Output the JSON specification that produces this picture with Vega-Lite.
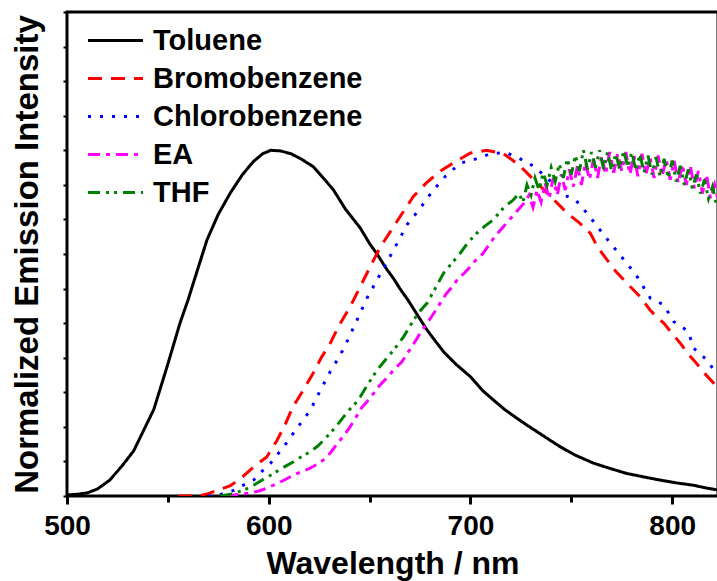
{
  "$schema": "https://vega.github.io/schema/vega-lite/v6.json",
  "width": 651,
  "height": 484,
  "autosize": "none",
  "padding": {"left": 67, "top": 12, "right": 0, "bottom": 85},
  "background": "white",
  "config": {"view": {"stroke": "black", "strokeWidth": 3}, "font": "Liberation Sans", "legend": {"padding": 0}},
  "data": {"values": [
    {"s":"Toluene","x":500,"y":0.003},{"s":"Toluene","x":505,"y":0.005},{"s":"Toluene","x":510,"y":0.009},{"s":"Toluene","x":515,"y":0.02},{"s":"Toluene","x":521,"y":0.045},{"s":"Toluene","x":527,"y":0.085},{"s":"Toluene","x":533,"y":0.13},{"s":"Toluene","x":538,"y":0.19},{"s":"Toluene","x":543,"y":0.25},{"s":"Toluene","x":549.6,"y":0.374},{"s":"Toluene","x":556,"y":0.5},{"s":"Toluene","x":560,"y":0.567},{"s":"Toluene","x":565,"y":0.66},{"s":"Toluene","x":569.4,"y":0.741},{"s":"Toluene","x":575,"y":0.815},{"s":"Toluene","x":581,"y":0.877},{"s":"Toluene","x":587,"y":0.93},{"s":"Toluene","x":592.5,"y":0.968},{"s":"Toluene","x":597,"y":0.99},{"s":"Toluene","x":601,"y":1.0},{"s":"Toluene","x":606,"y":0.998},{"s":"Toluene","x":611,"y":0.99},{"s":"Toluene","x":616,"y":0.975},{"s":"Toluene","x":622,"y":0.953},{"s":"Toluene","x":627,"y":0.92},{"s":"Toluene","x":632,"y":0.886},{"s":"Toluene","x":638,"y":0.83},{"s":"Toluene","x":645.4,"y":0.775},{"s":"Toluene","x":650,"y":0.73},{"s":"Toluene","x":653.7,"y":0.7},{"s":"Toluene","x":658,"y":0.66},{"s":"Toluene","x":662,"y":0.628},{"s":"Toluene","x":665,"y":0.6},{"s":"Toluene","x":669,"y":0.567},{"s":"Toluene","x":673,"y":0.53},{"s":"Toluene","x":678.5,"y":0.48},{"s":"Toluene","x":683,"y":0.445},{"s":"Toluene","x":687,"y":0.415},{"s":"Toluene","x":693,"y":0.38},{"s":"Toluene","x":700,"y":0.345},{"s":"Toluene","x":706,"y":0.305},{"s":"Toluene","x":711.5,"y":0.277},{"s":"Toluene","x":717,"y":0.25},{"s":"Toluene","x":723,"y":0.225},{"s":"Toluene","x":728,"y":0.205},{"s":"Toluene","x":733,"y":0.186},{"s":"Toluene","x":739,"y":0.163},{"s":"Toluene","x":744.6,"y":0.142},{"s":"Toluene","x":752,"y":0.118},{"s":"Toluene","x":761,"y":0.095},{"s":"Toluene","x":769,"y":0.08},{"s":"Toluene","x":777.6,"y":0.065},{"s":"Toluene","x":786,"y":0.055},{"s":"Toluene","x":794,"y":0.046},{"s":"Toluene","x":802,"y":0.038},{"s":"Toluene","x":810.6,"y":0.031},{"s":"Toluene","x":817,"y":0.023},{"s":"Toluene","x":823,"y":0.017},

    {"s":"Bromobenzene","x":555,"y":0},{"s":"Bromobenzene","x":559.5,"y":0},{"s":"Bromobenzene","x":566,"y":0.001},{"s":"Bromobenzene","x":570,"y":0.007},{"s":"Bromobenzene","x":574.4,"y":0.016},{"s":"Bromobenzene","x":581,"y":0.03},{"s":"Bromobenzene","x":587,"y":0.055},{"s":"Bromobenzene","x":592.5,"y":0.084},{"s":"Bromobenzene","x":599,"y":0.113},{"s":"Bromobenzene","x":604,"y":0.16},{"s":"Bromobenzene","x":608,"y":0.205},{"s":"Bromobenzene","x":612,"y":0.258},{"s":"Bromobenzene","x":617,"y":0.305},{"s":"Bromobenzene","x":622,"y":0.355},{"s":"Bromobenzene","x":626,"y":0.4},{"s":"Bromobenzene","x":630.5,"y":0.442},{"s":"Bromobenzene","x":635,"y":0.495},{"s":"Bromobenzene","x":640.4,"y":0.548},{"s":"Bromobenzene","x":645.4,"y":0.606},{"s":"Bromobenzene","x":650,"y":0.66},{"s":"Bromobenzene","x":655.3,"y":0.72},{"s":"Bromobenzene","x":662,"y":0.78},{"s":"Bromobenzene","x":667,"y":0.825},{"s":"Bromobenzene","x":671.8,"y":0.867},{"s":"Bromobenzene","x":678,"y":0.905},{"s":"Bromobenzene","x":685,"y":0.94},{"s":"Bromobenzene","x":692,"y":0.965},{"s":"Bromobenzene","x":700,"y":0.992},{"s":"Bromobenzene","x":708,"y":1.0},{"s":"Bromobenzene","x":716.4,"y":0.99},{"s":"Bromobenzene","x":720,"y":0.975},{"s":"Bromobenzene","x":724.7,"y":0.954},{"s":"Bromobenzene","x":731.3,"y":0.915},{"s":"Bromobenzene","x":739.6,"y":0.867},{"s":"Bromobenzene","x":748,"y":0.818},{"s":"Bromobenzene","x":754,"y":0.79},{"s":"Bromobenzene","x":759.4,"y":0.76},{"s":"Bromobenzene","x":763,"y":0.72},{"s":"Bromobenzene","x":767.7,"y":0.683},{"s":"Bromobenzene","x":772,"y":0.65},{"s":"Bromobenzene","x":777.6,"y":0.615},{"s":"Bromobenzene","x":784,"y":0.577},{"s":"Bromobenzene","x":789,"y":0.538},{"s":"Bromobenzene","x":792,"y":0.52},{"s":"Bromobenzene","x":795.8,"y":0.5},{"s":"Bromobenzene","x":800,"y":0.47},{"s":"Bromobenzene","x":804,"y":0.442},{"s":"Bromobenzene","x":808,"y":0.41},{"s":"Bromobenzene","x":812,"y":0.384},{"s":"Bromobenzene","x":816,"y":0.355},{"s":"Bromobenzene","x":820.6,"y":0.326},{"s":"Bromobenzene","x":823,"y":0.31},

    {"s":"Chlorobenzene","x":570,"y":0},{"s":"Chlorobenzene","x":574.4,"y":0.001},{"s":"Chlorobenzene","x":578,"y":0.008},{"s":"Chlorobenzene","x":582.6,"y":0.016},{"s":"Chlorobenzene","x":587,"y":0.03},{"s":"Chlorobenzene","x":592.5,"y":0.046},{"s":"Chlorobenzene","x":596,"y":0.068},{"s":"Chlorobenzene","x":600.8,"y":0.094},{"s":"Chlorobenzene","x":607.4,"y":0.142},{"s":"Chlorobenzene","x":614,"y":0.196},{"s":"Chlorobenzene","x":620.6,"y":0.248},{"s":"Chlorobenzene","x":625.6,"y":0.306},{"s":"Chlorobenzene","x":630.5,"y":0.36},{"s":"Chlorobenzene","x":635.5,"y":0.408},{"s":"Chlorobenzene","x":640.4,"y":0.466},{"s":"Chlorobenzene","x":644.6,"y":0.52},{"s":"Chlorobenzene","x":648.7,"y":0.572},{"s":"Chlorobenzene","x":653.7,"y":0.625},{"s":"Chlorobenzene","x":658.7,"y":0.678},{"s":"Chlorobenzene","x":663.6,"y":0.73},{"s":"Chlorobenzene","x":668.6,"y":0.785},{"s":"Chlorobenzene","x":675.2,"y":0.833},{"s":"Chlorobenzene","x":681,"y":0.881},{"s":"Chlorobenzene","x":687.6,"y":0.925},{"s":"Chlorobenzene","x":695,"y":0.963},{"s":"Chlorobenzene","x":701.6,"y":0.973},{"s":"Chlorobenzene","x":710,"y":0.99},{"s":"Chlorobenzene","x":717.3,"y":0.994},{"s":"Chlorobenzene","x":724.7,"y":0.975},{"s":"Chlorobenzene","x":731.3,"y":0.954},{"s":"Chlorobenzene","x":738,"y":0.92},{"s":"Chlorobenzene","x":746.2,"y":0.871},{"s":"Chlorobenzene","x":752,"y":0.857},{"s":"Chlorobenzene","x":757,"y":0.823},{"s":"Chlorobenzene","x":761,"y":0.794},{"s":"Chlorobenzene","x":766,"y":0.756},{"s":"Chlorobenzene","x":771.8,"y":0.714},{"s":"Chlorobenzene","x":777.6,"y":0.672},{"s":"Chlorobenzene","x":781.7,"y":0.643},{"s":"Chlorobenzene","x":785.6,"y":0.606},{"s":"Chlorobenzene","x":789.2,"y":0.572},{"s":"Chlorobenzene","x":795.8,"y":0.553},{"s":"Chlorobenzene","x":800.8,"y":0.504},{"s":"Chlorobenzene","x":805,"y":0.49},{"s":"Chlorobenzene","x":808.2,"y":0.471},{"s":"Chlorobenzene","x":810.7,"y":0.427},{"s":"Chlorobenzene","x":814,"y":0.41},{"s":"Chlorobenzene","x":817.3,"y":0.393},{"s":"Chlorobenzene","x":822.3,"y":0.35},

    {"s":"EA","x":579,"y":0},{"s":"EA","x":586,"y":0.005},{"s":"EA","x":592,"y":0.01},{"s":"EA","x":596,"y":0.016},{"s":"EA","x":600,"y":0.025},{"s":"EA","x":604,"y":0.036},{"s":"EA","x":608,"y":0.047},{"s":"EA","x":612,"y":0.06},{"s":"EA","x":616,"y":0.07},{"s":"EA","x":620,"y":0.079},{"s":"EA","x":624,"y":0.092},{"s":"EA","x":628,"y":0.108},{"s":"EA","x":631,"y":0.128},{"s":"EA","x":634,"y":0.152},{"s":"EA","x":637,"y":0.173},{"s":"EA","x":640,"y":0.197},{"s":"EA","x":643,"y":0.225},{"s":"EA","x":646,"y":0.255},{"s":"EA","x":649,"y":0.275},{"s":"EA","x":652,"y":0.297},{"s":"EA","x":655,"y":0.32},{"s":"EA","x":659,"y":0.345},{"s":"EA","x":662,"y":0.365},{"s":"EA","x":666,"y":0.388},{"s":"EA","x":669,"y":0.415},{"s":"EA","x":672,"y":0.442},{"s":"EA","x":675,"y":0.47},{"s":"EA","x":678.5,"y":0.5},{"s":"EA","x":682,"y":0.53},{"s":"EA","x":685,"y":0.558},{"s":"EA","x":688,"y":0.585},{"s":"EA","x":691,"y":0.605},{"s":"EA","x":694,"y":0.63},{"s":"EA","x":697,"y":0.645},{"s":"EA","x":700,"y":0.664},{"s":"EA","x":703,"y":0.685},{"s":"EA","x":706,"y":0.7},{"s":"EA","x":709,"y":0.725},{"s":"EA","x":712,"y":0.75},{"s":"EA","x":715,"y":0.77},{"s":"EA","x":718,"y":0.79},{"s":"EA","x":721,"y":0.81},{"s":"EA","x":724,"y":0.83},{"s":"EA","x":727,"y":0.85},{"s":"EA","x":729,"y":0.87},{"s":"EA","x":731,"y":0.835},{"s":"EA","x":733,"y":0.885},{"s":"EA","x":735,"y":0.85},{"s":"EA","x":737,"y":0.905},{"s":"EA","x":739,"y":0.86},{"s":"EA","x":741,"y":0.92},{"s":"EA","x":743,"y":0.87},{"s":"EA","x":745,"y":0.93},{"s":"EA","x":747,"y":0.885},{"s":"EA","x":749,"y":0.945},{"s":"EA","x":751,"y":0.895},{"s":"EA","x":753,"y":0.955},{"s":"EA","x":755,"y":0.9},{"s":"EA","x":757,"y":0.965},{"s":"EA","x":759,"y":0.915},{"s":"EA","x":761,"y":0.975},{"s":"EA","x":763,"y":0.92},{"s":"EA","x":765,"y":0.985},{"s":"EA","x":767,"y":0.93},{"s":"EA","x":769,"y":0.995},{"s":"EA","x":771,"y":0.935},{"s":"EA","x":773,"y":0.99},{"s":"EA","x":775,"y":0.94},{"s":"EA","x":777,"y":0.995},{"s":"EA","x":779,"y":0.93},{"s":"EA","x":781,"y":0.985},{"s":"EA","x":783,"y":0.925},{"s":"EA","x":785,"y":0.99},{"s":"EA","x":787,"y":0.93},{"s":"EA","x":789,"y":0.98},{"s":"EA","x":791,"y":0.92},{"s":"EA","x":793,"y":0.985},{"s":"EA","x":795,"y":0.925},{"s":"EA","x":797,"y":0.975},{"s":"EA","x":799,"y":0.915},{"s":"EA","x":801,"y":0.97},{"s":"EA","x":803,"y":0.905},{"s":"EA","x":805,"y":0.96},{"s":"EA","x":807,"y":0.9},{"s":"EA","x":809,"y":0.955},{"s":"EA","x":811,"y":0.89},{"s":"EA","x":813,"y":0.94},{"s":"EA","x":815,"y":0.875},{"s":"EA","x":817,"y":0.93},{"s":"EA","x":819,"y":0.86},{"s":"EA","x":821,"y":0.9},{"s":"EA","x":823,"y":0.85},

    {"s":"THF","x":576,"y":0},{"s":"THF","x":582.6,"y":0.007},{"s":"THF","x":588,"y":0.018},{"s":"THF","x":592.5,"y":0.031},{"s":"THF","x":597,"y":0.047},{"s":"THF","x":602.4,"y":0.065},{"s":"THF","x":607,"y":0.082},{"s":"THF","x":612.3,"y":0.099},{"s":"THF","x":616,"y":0.113},{"s":"THF","x":620.6,"y":0.128},{"s":"THF","x":624,"y":0.143},{"s":"THF","x":627.2,"y":0.161},{"s":"THF","x":630.5,"y":0.182},{"s":"THF","x":633.9,"y":0.205},{"s":"THF","x":637,"y":0.228},{"s":"THF","x":640.5,"y":0.253},{"s":"THF","x":643,"y":0.268},{"s":"THF","x":645.4,"y":0.287},{"s":"THF","x":649,"y":0.322},{"s":"THF","x":653.7,"y":0.364},{"s":"THF","x":658,"y":0.395},{"s":"THF","x":661.9,"y":0.422},{"s":"THF","x":666.9,"y":0.461},{"s":"THF","x":671.8,"y":0.509},{"s":"THF","x":675,"y":0.535},{"s":"THF","x":678.5,"y":0.558},{"s":"THF","x":682,"y":0.595},{"s":"THF","x":686.7,"y":0.645},{"s":"THF","x":691,"y":0.675},{"s":"THF","x":695,"y":0.703},{"s":"THF","x":699,"y":0.735},{"s":"THF","x":703.3,"y":0.761},{"s":"THF","x":707,"y":0.78},{"s":"THF","x":711.5,"y":0.8},{"s":"THF","x":715,"y":0.825},{"s":"THF","x":718,"y":0.842},{"s":"THF","x":721,"y":0.855},{"s":"THF","x":724,"y":0.875},{"s":"THF","x":726,"y":0.85},{"s":"THF","x":728,"y":0.9},{"s":"THF","x":730,"y":0.87},{"s":"THF","x":732,"y":0.92},{"s":"THF","x":734,"y":0.885},{"s":"THF","x":736,"y":0.935},{"s":"THF","x":738,"y":0.9},{"s":"THF","x":740,"y":0.95},{"s":"THF","x":742,"y":0.91},{"s":"THF","x":744,"y":0.96},{"s":"THF","x":746,"y":0.92},{"s":"THF","x":748,"y":0.975},{"s":"THF","x":750,"y":0.93},{"s":"THF","x":752,"y":0.985},{"s":"THF","x":754,"y":0.94},{"s":"THF","x":756,"y":1.0},{"s":"THF","x":758,"y":0.945},{"s":"THF","x":760,"y":0.995},{"s":"THF","x":762,"y":0.95},{"s":"THF","x":764,"y":1.0},{"s":"THF","x":766,"y":0.945},{"s":"THF","x":768,"y":0.995},{"s":"THF","x":770,"y":0.94},{"s":"THF","x":772,"y":0.99},{"s":"THF","x":774,"y":0.945},{"s":"THF","x":776,"y":1.0},{"s":"THF","x":778,"y":0.95},{"s":"THF","x":780,"y":0.995},{"s":"THF","x":782,"y":0.94},{"s":"THF","x":784,"y":0.99},{"s":"THF","x":786,"y":0.935},{"s":"THF","x":788,"y":0.985},{"s":"THF","x":790,"y":0.93},{"s":"THF","x":792,"y":0.98},{"s":"THF","x":794,"y":0.925},{"s":"THF","x":796,"y":0.975},{"s":"THF","x":798,"y":0.92},{"s":"THF","x":800,"y":0.97},{"s":"THF","x":802,"y":0.91},{"s":"THF","x":804,"y":0.955},{"s":"THF","x":806,"y":0.9},{"s":"THF","x":808,"y":0.945},{"s":"THF","x":810,"y":0.89},{"s":"THF","x":812,"y":0.93},{"s":"THF","x":814,"y":0.875},{"s":"THF","x":816,"y":0.915},{"s":"THF","x":818,"y":0.86},{"s":"THF","x":820,"y":0.895},{"s":"THF","x":822,"y":0.84}
  ]},
  "mark": {"type": "line", "strokeWidth": 3, "clip": true},
  "encoding": {
    "x": {
      "field": "x", "type": "quantitative",
      "scale": {"domain": [500, 822.7], "nice": false, "zero": false},
      "axis": {
        "values": [500, 550, 600, 650, 700, 750, 800],
        "labelExpr": "datum.value % 100 === 0 ? datum.label : ''",
        "domain": false, "grid": false,
        "tickColor": "black", "tickWidth": 3,
        "tickSize": {"condition": {"test": "datum.value % 100 === 0", "value": 8}, "value": 6},
        "labelFont": "Liberation Sans", "labelFontSize": 28, "labelFontWeight": "bold", "labelColor": "black",
        "labelPadding": 8, "labelFlush": false,
        "title": "Wavelength / nm",
        "titleFont": "Liberation Sans", "titleFontSize": 32, "titleFontWeight": "bold", "titleColor": "black",
        "titleBaseline": "alphabetic", "titleY": 77
      }
    },
    "y": {
      "field": "y", "type": "quantitative",
      "scale": {"domain": [0, 1.4], "nice": false},
      "axis": {
        "values": [0, 0.1, 0.2, 0.3, 0.4, 0.5, 0.6, 0.7, 0.8, 0.9, 1.0, 1.1, 1.2, 1.3, 1.4],
        "labels": false, "domain": false, "grid": false,
        "tickColor": "black", "tickWidth": 2, "tickSize": 4,
        "title": "Normalized Emission Intensity",
        "titleFont": "Liberation Sans", "titleFontSize": 33, "titleFontWeight": "bold", "titleColor": "black",
        "titleAngle": -90, "titleBaseline": "alphabetic", "titleAlign": "center",
        "titleX": -30, "titleY": 242
      }
    },
    "color": {
      "field": "s", "type": "nominal",
      "scale": {"domain": ["Toluene", "Bromobenzene", "Chlorobenzene", "EA", "THF"], "range": ["#000000", "#ff0000", "#0000ff", "#ff00ff", "#008000"]},
      "legend": {
        "orient": "none", "legendX": 27, "legendY": 7, "title": null,
        "symbolType": "M-1.375,0H1.375", "symbolSize": 1600, "symbolStrokeWidth": 3,
        "labelFont": "Liberation Sans", "labelFontSize": 29, "labelFontWeight": "bold", "labelColor": "black",
        "labelOffset": 16, "rowPadding": 1, "labelLimit": 400
      }
    },
    "strokeDash": {
      "field": "s", "type": "nominal",
      "scale": {"domain": ["Toluene", "Bromobenzene", "Chlorobenzene", "EA", "THF"], "range": [[1, 0], [14, 9], [3, 9], [12, 6, 4, 6], [12, 6, 3, 5, 3, 6]]},
      "legend": {
        "orient": "none", "legendX": 27, "legendY": 7, "title": null,
        "symbolType": "M-1.375,0H1.375", "symbolSize": 1600, "symbolStrokeWidth": 3,
        "labelFont": "Liberation Sans", "labelFontSize": 29, "labelFontWeight": "bold", "labelColor": "black",
        "labelOffset": 16, "rowPadding": 1, "labelLimit": 400
      }
    }
  }
}
